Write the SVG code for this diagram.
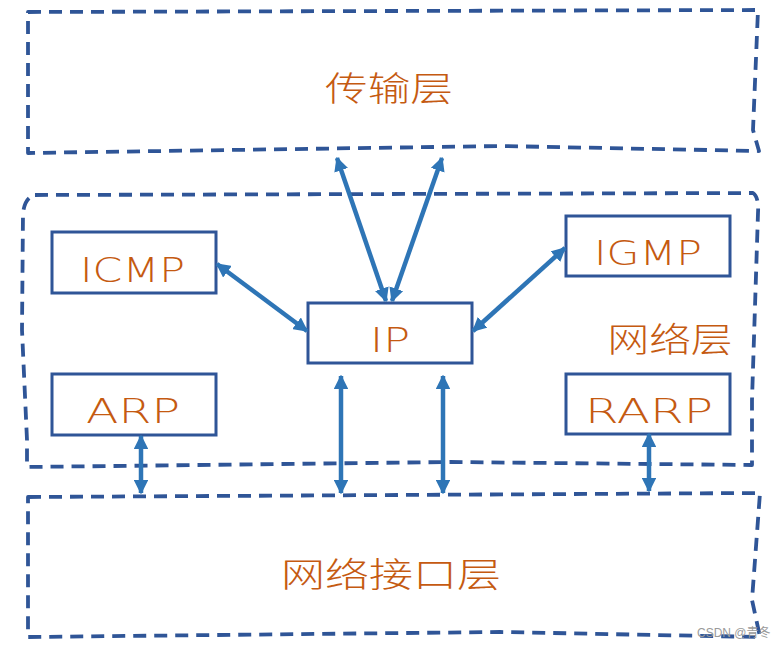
<svg xmlns="http://www.w3.org/2000/svg" width="776" height="647" viewBox="0 0 776 647">
<defs>
<style>
.layer{fill:none;stroke:#2f5597;stroke-width:3.8;stroke-dasharray:13 8;stroke-linejoin:round}
.box{fill:#fff;stroke:#2f5597;stroke-width:3}
.lbl{font-family:"DejaVu Sans","Liberation Sans",sans-serif;font-weight:200;font-size:33px;fill:#c55a11}
.cjk{font-family:"Noto Sans CJK SC",sans-serif;font-weight:300;font-size:34px;fill:#c55a11}
.arr{fill:none;stroke:#2e75b6;stroke-width:4.5;marker-start:url(#ah);marker-end:url(#ah)}
</style>
<marker id="ah" viewBox="0 0 10 10" refX="9" refY="5" markerWidth="3.2" markerHeight="3.2" orient="auto-start-reverse" markerUnits="strokeWidth">
<path d="M0,0 L10,5 L0,10 Z" fill="#2e75b6"/>
</marker>
</defs>
<rect width="776" height="647" fill="#fff"/>
<g id="transport">
<path class="layer" d="M28,12 L758,10 L753,130 L759,151 L500,146 L28,153 Z"/>
<text class="cjk" x="389" y="101" text-anchor="middle" textLength="128" lengthAdjust="spacingAndGlyphs">传输层</text>
</g>
<g id="network">
<path class="layer" d="M35,195 L753,193 Q759,197 758,213 L752,400 L752,465 L450,462 L27,467 L27,440 L22,330 L23,213 Q25,197 35,195 Z"/>
<text class="cjk" x="670" y="352" text-anchor="middle" textLength="125" lengthAdjust="spacingAndGlyphs">网络层</text>
</g>
<g id="interface">
<path class="layer" d="M28,497 L760,493 L752,600 L760,637 L500,632 L28,637 Z"/>
<text class="cjk" x="391" y="587" text-anchor="middle" textLength="220" lengthAdjust="spacingAndGlyphs">网络接口层</text>
</g>
<g id="icmp">
<rect class="box" x="52" y="232" width="164" height="61"/>
<text class="lbl" x="80" y="282" textLength="105" lengthAdjust="spacingAndGlyphs">ICMP</text>
</g>
<g id="arp">
<rect class="box" x="52" y="374" width="164" height="61"/>
<text class="lbl" x="86" y="423" textLength="94" lengthAdjust="spacingAndGlyphs">ARP</text>
</g>
<g id="ip">
<rect class="box" x="308" y="303" width="164" height="60"/>
<text class="lbl" x="370" y="352" textLength="40" lengthAdjust="spacingAndGlyphs">IP</text>
</g>
<g id="igmp">
<rect class="box" x="566" y="216" width="164" height="60"/>
<text class="lbl" x="594" y="265" textLength="108" lengthAdjust="spacingAndGlyphs">IGMP</text>
</g>
<g id="rarp">
<rect class="box" x="566" y="374" width="164" height="60"/>
<text class="lbl" x="585" y="423" textLength="128" lengthAdjust="spacingAndGlyphs">RARP</text>
</g>
<g id="connectors">
<line class="arr" x1="386" y1="301" x2="337" y2="158"/>
<line class="arr" x1="392" y1="301" x2="442" y2="158"/>
<line class="arr" x1="217" y1="264" x2="307" y2="331"/>
<line class="arr" x1="565" y1="248" x2="473" y2="331"/>
<line class="arr" x1="141" y1="436" x2="141" y2="493"/>
<line class="arr" x1="341" y1="376" x2="341" y2="493"/>
<line class="arr" x1="443" y1="376" x2="443" y2="493"/>
<line class="arr" x1="649" y1="434" x2="649" y2="491"/>
</g>
<text x="697" y="637" font-family="Liberation Sans, Noto Sans CJK SC, sans-serif" font-size="12" fill="#9a9a9a">CSDN @青冬</text>
</svg>
